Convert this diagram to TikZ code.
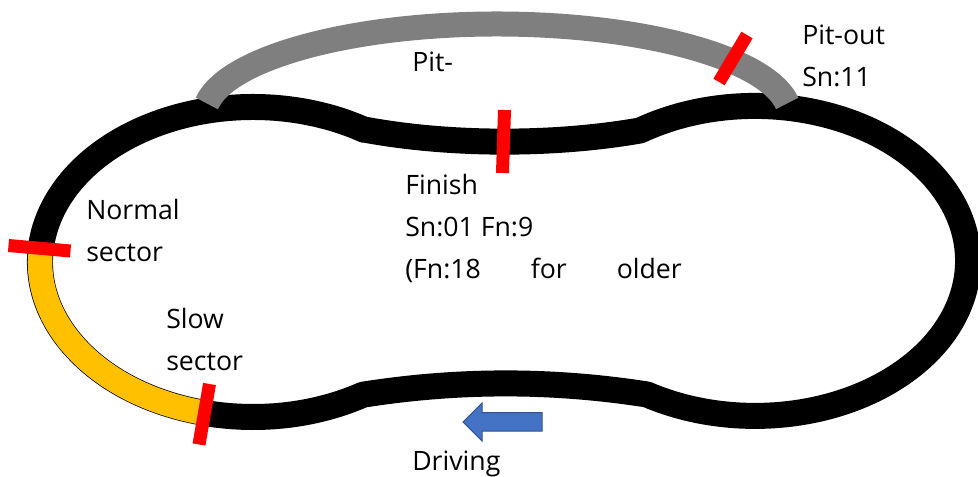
\documentclass[tikz,border=0pt]{standalone}
\usepackage{fontspec}
\setmainfont{Open Sans}
\definecolor{pitgray}{HTML}{7F7F7F}
\definecolor{slowyellow}{HTML}{FFC000}
\definecolor{arrowblue}{HTML}{4472C4}
\definecolor{arrowedge}{HTML}{2F528F}
\begin{document}
\begin{tikzpicture}[x=0.75pt,y=-0.75pt,
  track/.style={line width=19.5pt, draw=black, line join=round},
  slowpart/.style={line width=18.4pt, draw=slowyellow},
  pitlane/.style={line width=18.75pt, draw=pitgray},
  marker/.style={line width=9.75pt, draw=red},
  lbl/.style={anchor=base west, inner sep=0pt, font=\fontsize{20pt}{24pt}\selectfont, text=black},
  dirarrow/.style={draw=arrowedge, fill=arrowblue, line width=0.75pt}]
\useasboundingbox (0,0) rectangle (978,477);
% track as one closed path
\draw[track] (364,129.5) .. controls (450,145.5) and (554,145.5) .. (640,130.5)
  arc[start angle=-122.7, end angle=120.5, x radius=213, y radius=155]
  .. controls (552,379.7) and (458,379.7) .. (363,394.7)
  arc[start angle=58.9, end angle=301.4, x radius=213, y radius=155]
  -- cycle;
% slow sector
\draw[slowpart] (253,262) ++(103:213 and 155) arc[start angle=103, end angle=185.2, x radius=213, y radius=155];
% pit lane
\draw[pitlane] (497,116.3) ++(-172:293 and 92.3) arc[start angle=-172, end angle=-8, x radius=293, y radius=92.3];
% markers
\coordinate (finA) at (504.5,110); \coordinate (finB) at (502.5,173);
\coordinate (poA) at (719,82); \coordinate (poB) at (747,35);
\coordinate (nsA) at (8.5,245.5); \coordinate (nsB) at (70.5,251);
\coordinate (ssA) at (209.5,384); \coordinate (ssB) at (199,444.5);
\draw[marker] (finA) -- (finB);
\draw[marker] (poA) -- (poB);
\draw[marker] (nsA) -- (nsB);
\draw[marker] (ssA) -- (ssB);
% driving arrow
\draw[dirarrow] (542,412.5) -- (482,412.5) -- (482,403) -- (463,422) -- (482,441) -- (482,431) -- (542,431) -- cycle;
% labels
\node[lbl] (pitin) at (412,72) {Pit-};
\node[lbl] (pitout1) at (802,45) {Pit-out};
\node[lbl] (pitout2) at (802,87) {Sn:11};
\node[lbl] (fin1) at (405,195) {Finish};
\node[lbl] (fin2) at (405,236.7) {Sn:01 Fn:9};
\node[lbl] (fin3a) at (405,278.3) {(Fn:18};
\node[lbl] (fin3b) at (530.5,278.3) {for};
\node[lbl] (fin3c) at (616.5,278.3) {older};
\node[lbl] (norm1) at (86,220) {Normal};
\node[lbl] (norm2) at (86,261.5) {sector};
\node[lbl] (slow1) at (166,328.3) {Slow};
\node[lbl] (slow2) at (166,370.7) {sector};
\node[lbl] (drv) at (412,470) {Driving};
\end{tikzpicture}
\end{document}
